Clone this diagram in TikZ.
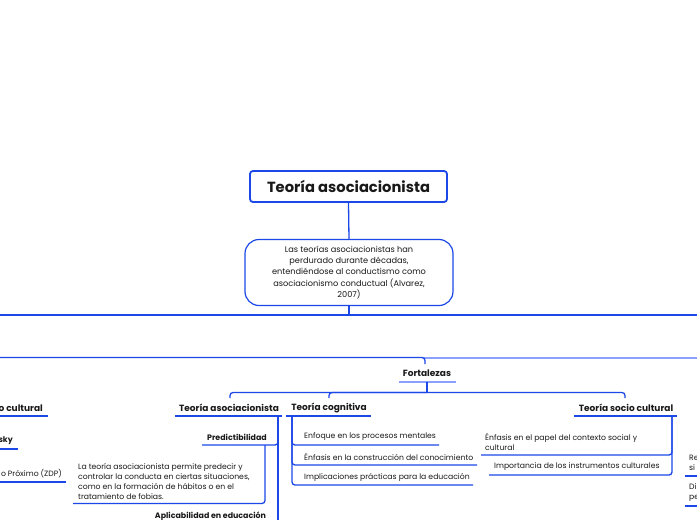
\documentclass[tikz,border=0pt]{standalone}
\usepackage{fontspec}
\setmainfont{Poppins}
\definecolor{mmblue}{RGB}{28,72,232}
\definecolor{mmlight}{RGB}{138,160,255}
\definecolor{mmtext}{RGB}{25,25,25}
\begin{document}
\begin{tikzpicture}[x=1pt,y=-1pt,
  conn/.style={draw=mmblue,line width=1.3pt,rounded corners=3pt},
  lconn/.style={draw=mmlight,line width=2pt,rounded corners=3pt},
  head/.style={font=\fontsize{9}{10}\selectfont\bfseries,text=mmtext,inner sep=0pt},
  subhead/.style={font=\fontsize{7.9}{10}\selectfont\bfseries,text=mmtext,inner sep=0pt},
  item/.style={font=\fontsize{7.7}{10}\selectfont,text=mmtext,inner sep=0pt,align=left},
]
\useasboundingbox (0,0) rectangle (697,520);
\fill[white] (0,0) rectangle (697,520);

% root
\node[draw=mmblue,line width=1.8pt,rounded corners=3pt,minimum width=197pt,minimum height=31pt,
      font=\fontsize{14.7}{16}\selectfont\bfseries,text=mmtext] (title) at (348.5,186.5) {Teoría asociacionista};
\node[draw=mmblue,line width=1.2pt,rounded corners=14pt,minimum width=208pt,minimum height=66pt,
      align=center,font=\fontsize{8.2}{11.2}\selectfont,text=mmtext] (desc) at (349,272.5)
      {Las teorías asociacionistas han\\perdurado durante décadas,\\entendiéndose al conductismo como\\asociacionismo conductual (Alvarez,\\2007)};
\draw[conn] (title.south) -- (desc.north);

\coordinate (b1) at (349,315);
\coordinate (L1) at (0,315);
\coordinate (R1) at (697,315);
\draw[conn] (desc.south) -- (b1);
\draw[conn] (L1) -- (R1);

% Fortalezas
\node[head] (fort) at (427,373) {Fortalezas};
\coordinate (L2) at (0,357.5);
\coordinate (R2) at (697,357.5);
\coordinate (fk) at (423,357.5);
\coordinate (fin) at (425,364);
\draw[lconn] (fk) -- (R2);
\draw[conn] (L2) -| (fin);
\coordinate (fu1) at (399,381.5);
\coordinate (fu2) at (456,381.5);
\draw[lconn,rounded corners=0pt] (fu1) -- (fu2);
\coordinate (fu) at (427,381.5);
\coordinate (fj) at (427,392.5);
\draw[conn] (fu) -- (fj);

% second level heads
\node[head] (asoc) at (229,408) {Teoría asociacionista};
\node[head] (cog) at (329,408) {Teoría cognitiva};
\node[head] (socio) at (626,408) {Teoría socio cultural};
\node[head,anchor=east] (lsoc) at (43,408) {o cultural};
\coordinate (asoct) at (230,398);
\coordinate (cogt) at (329,398);
\coordinate (sociot) at (625,398);
\draw[conn] (asoct) |- (fj) -| (sociot);
\draw[conn] (fj) -| (cogt);

\draw[conn] (175,416) coordinate (au1) -- (282,416) coordinate (au2);
\draw[conn] (286,416) coordinate (cu1) -- (371,416) coordinate (cu2);
\draw[conn] (574,416) coordinate (su1) -- (677,416) coordinate (su2);
\draw[conn] (0,416) coordinate (lu1) -- (48,416) coordinate (lu2);

% asociacionista branch
\coordinate (av) at (278,416);
\coordinate (ab) at (278,521);
\draw[conn] (av) -- (ab);
\node[subhead] (pred) at (237,437) {Predictibilidad};
\coordinate (pu1) at (202,445);
\coordinate (pu2) at (278,438);
\draw[conn] (pu1) -| (pu2);
\coordinate (pv) at (265,445);
\coordinate (pd) at (73,503.5);
\draw[conn] (pv) |- (pd);
\node[item,anchor=north west] (predtxt) at (78,463.5)
  {La teoría asociacionista permite predecir y\\controlar la conducta en ciertas situaciones,\\como en la formación de hábitos o en el\\tratamiento de fobias.};
\node[subhead] (aplic) at (210.5,516) {Aplicabilidad en educación};

% cognitiva branch
\coordinate (cv) at (292,416);
\node[item,anchor=west] (c1) at (304,437) {Enfoque en los procesos mentales};
\node[item,anchor=west] (c2) at (304,457) {Énfasis en la construcción del conocimiento};
\node[item,anchor=west] (c3) at (304,477) {Implicaciones prácticas para la educación};
\coordinate (c1e) at (439,445);
\coordinate (c2e) at (477,465);
\coordinate (c3e) at (473,485);
\draw[conn] (cv) |- (c1e);
\draw[conn] (cv) |- (c2e);
\draw[conn] (cv) |- (c3e);

% socio cultural branch
\coordinate (sv) at (672,416);
\node[item,anchor=west] (s1) at (485,442) {Énfasis en el papel del contexto social y\\cultural};
\node[item,anchor=west] (s2) at (494,467) {Importancia de los instrumentos culturales};
\coordinate (s1e) at (481,455);
\coordinate (s2e) at (489,475);
\draw[conn] (sv) |- (s1e);
\draw[conn] (sv) |- (s2e);

% right edge fragments
\node[item,anchor=west] (r1) at (689,463) {Re\\si};
\node[item,anchor=west] (r2) at (689,493) {Di\\pe};
\draw[conn] (685,476) coordinate (r1a) -- (697,476) coordinate (r1b);
\draw[conn] (685,506) coordinate (r2a) -- (697,506) coordinate (r2b);

% left edge fragments
\node[subhead,anchor=east] (l1) at (13,441) {sky};
\draw[conn] (0,449) coordinate (l1a) -- (18,449) coordinate (l1b);
\node[item,anchor=east] (l2) at (62,474) {o Próximo (ZDP)};
\draw[conn] (0,482) coordinate (l2a) -- (66,482) coordinate (l2b);
\end{tikzpicture}
\end{document}
